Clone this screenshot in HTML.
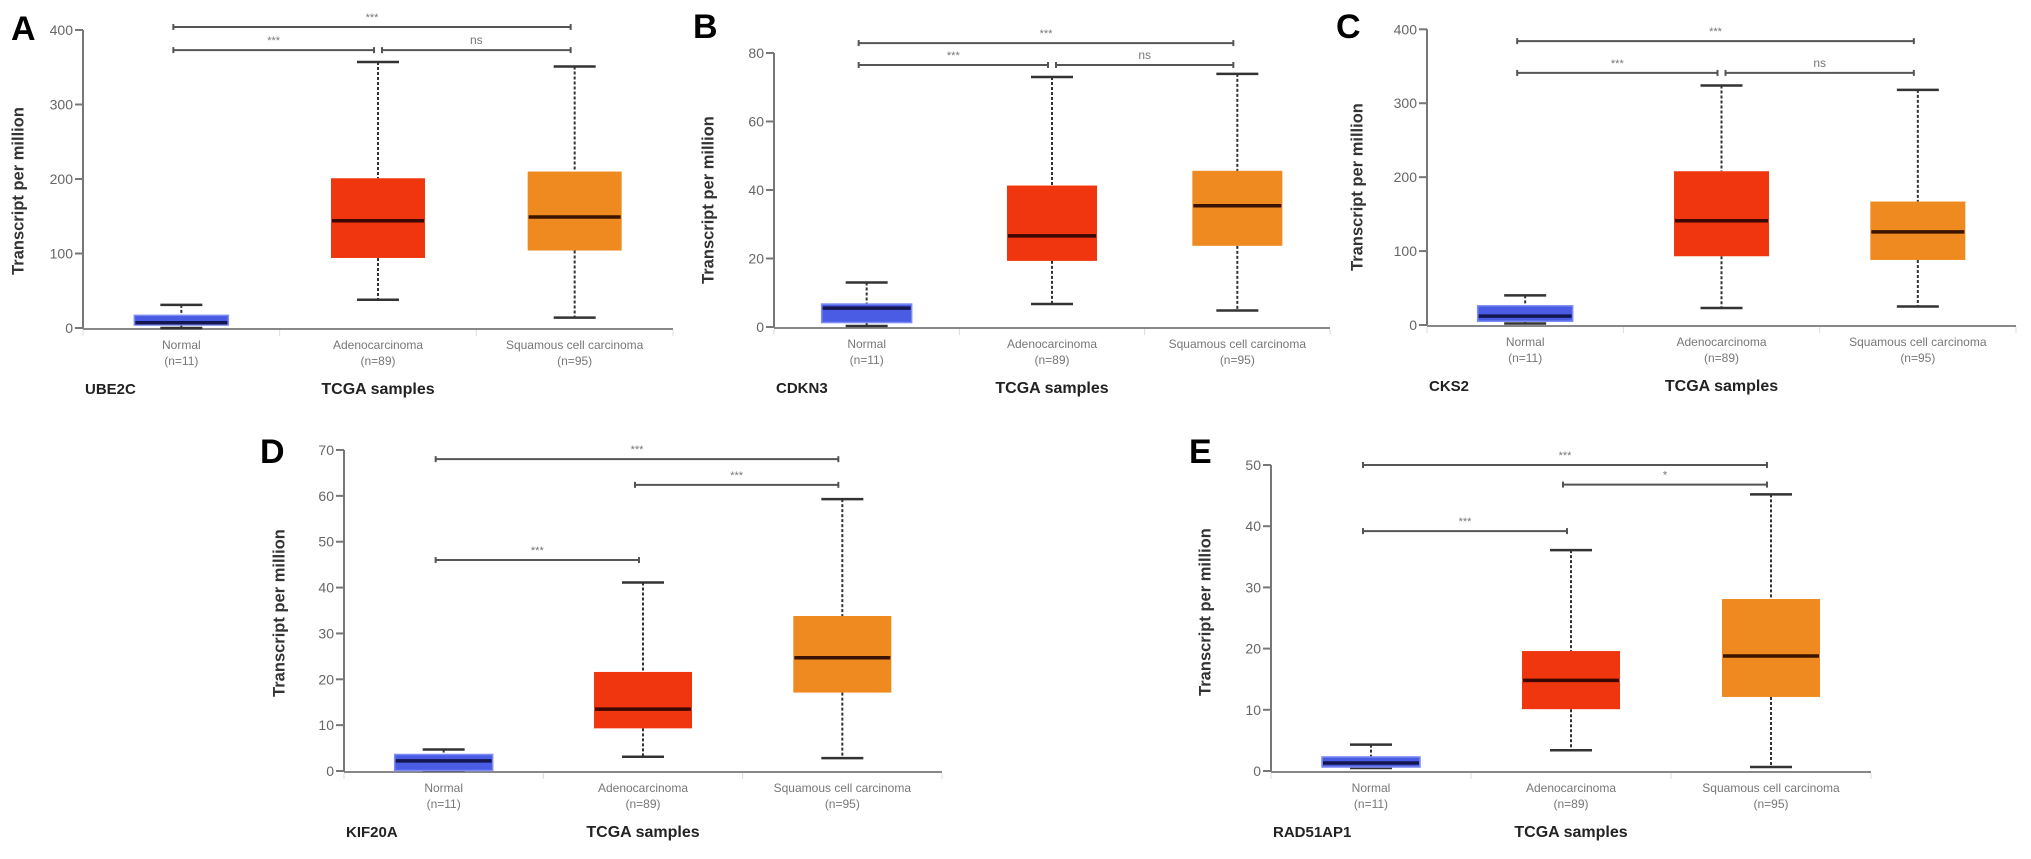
<!DOCTYPE html>
<html><head><meta charset="utf-8">
<style>
html,body{margin:0;padding:0;background:#fff;}
svg{display:block;font-family:"Liberation Sans",sans-serif;}
</style></head>
<body>
<svg id="fig" width="2031" height="859" viewBox="0 0 2031 859" xmlns="http://www.w3.org/2000/svg"></svg>
<script>
// ---- data ----
const categories = ["Normal", "Adenocarcinoma", "Squamous cell carcinoma"];
const counts = ["(n=11)", "(n=89)", "(n=95)"];
// each box: [low whisker, q1, median, q3, high whisker]
const ube2cBoxes = [[0, 4, 7, 17, 31], [38, 94, 144, 201, 357], [14, 104, 149, 210, 351]];
const cdkn3Boxes = [[0.3, 1.3, 5.5, 6.7, 13], [6.7, 19.3, 26.6, 41.3, 73], [4.8, 23.7, 35.4, 45.6, 73.9]];
const cks2Boxes = [[2, 5, 12, 26, 40], [23, 93, 141, 208, 324], [25, 88, 126, 167, 318]];
const kif20aBoxes = [[0.1, 0.1, 2.2, 3.6, 4.7], [3.1, 9.3, 13.5, 21.6, 41.1], [2.8, 17.1, 24.7, 33.8, 59.3]];
const rad51ap1Boxes = [[0.5, 0.65, 1.3, 2.3, 4.3], [3.4, 10.1, 14.8, 19.6, 36.1], [0.65, 12.1, 18.8, 28.1, 45.2]];
// significance brackets: [fromGroup, toGroup, yValue, label]
const ube2cSig = [[0, 2, 404, "***"], [0, 1, 373, "***"], [1, 2, 373, "ns"]];
const cdkn3Sig = [[0, 2, 82.9, "***"], [0, 1, 76.5, "***"], [1, 2, 76.5, "ns"]];
const cks2Sig = [[0, 2, 384, "***"], [0, 1, 341, "***"], [1, 2, 341, "ns"]];
const kif20aSig = [[0, 2, 68, "***"], [1, 2, 62.4, "***"], [0, 1, 46, "***"]];
const rad51ap1Sig = [[0, 2, 50, "***"], [1, 2, 46.8, "*"], [0, 1, 39.2, "***"]];
const ube2cTicks = [0, 100, 200, 300, 400];
const cdkn3Ticks = [0, 20, 40, 60, 80];
const cks2Ticks = [0, 100, 200, 300, 400];
const kif20aTicks = [0, 10, 20, 30, 40, 50, 60, 70];
const rad51ap1Ticks = [0, 10, 20, 30, 40, 50];

const panels = [
 {id:"a", letter:"A", gene:"UBE2C", boxes:ube2cBoxes, sig:ube2cSig, ticks:ube2cTicks, ax:83, xEnd:673, y0:328, yTop:30, lx:11, ly:40, ylx:19, yly:191, bw:94},
 {id:"b", letter:"B", gene:"CDKN3", boxes:cdkn3Boxes, sig:cdkn3Sig, ticks:cdkn3Ticks, ax:774, xEnd:1330, y0:327, yTop:53, lx:693, ly:38, ylx:709, yly:200, bw:90},
 {id:"c", letter:"C", gene:"CKS2", boxes:cks2Boxes, sig:cks2Sig, ticks:cks2Ticks, ax:1427, xEnd:2016, y0:325, yTop:29.3, lx:1336, ly:38, ylx:1358, yly:187, bw:95},
 {id:"d", letter:"D", gene:"KIF20A", boxes:kif20aBoxes, sig:kif20aSig, ticks:kif20aTicks, ax:344, xEnd:942, y0:771, yTop:450, lx:260, ly:463, ylx:280, yly:613, bw:98},
 {id:"e", letter:"E", gene:"RAD51AP1", boxes:rad51ap1Boxes, sig:rad51ap1Sig, ticks:rad51ap1Ticks, ax:1271, xEnd:1871, y0:771, yTop:465, lx:1189, ly:463, ylx:1206, yly:612, bw:98}
];
const fills = ["#4a5ce4", "#ef360e", "#ee8a1f"];
const medians = ["#141650", "#3a0800", "#3a1400"];

const NS = "http://www.w3.org/2000/svg";
const svg = document.getElementById("fig");
function mk(tag, attrs, parent, text) {
  const e = document.createElementNS(NS, tag);
  for (const k in attrs) e.setAttribute(k, attrs[k]);
  if (text !== undefined) e.textContent = text;
  parent.appendChild(e);
  return e;
}

panels.forEach(p => {
  const g = mk("g", {}, svg);
  
  
  const maxV = p.ticks[p.ticks.length - 1];
  const yS = v => p.y0 - (v / maxV) * (p.y0 - p.yTop);
  const band = (p.xEnd - p.ax) / 3;
  const xC = i => p.ax + band * (i + 0.5);

  const L = mk("text", {x:p.lx, y:p.ly, "font-size":34, "font-weight":"bold", fill:"#000"}, g, p.letter);
  
  

  // y axis
  const yAx = mk("g", {}, g);
  
  
  mk("line", {x1:p.ax, y1:p.yTop, x2:p.ax, y2:p.y0+1, stroke:"#777", "stroke-width":2}, yAx);
  p.ticks.forEach(t => {
    const y = yS(t);
    mk("line", {x1:p.ax-8, y1:y, x2:p.ax, y2:y, stroke:"#777", "stroke-width":2}, yAx);
    const tl = mk("text", {x:p.ax-10, y:y+5, "font-size":14, fill:"#666", "text-anchor":"end"}, yAx, String(t));
    
    
  });
  const yt = mk("text", {x:p.ylx, y:p.yly, "font-size":16.5, "font-weight":"bold", fill:"#333", "text-anchor":"middle", "dominant-baseline":"middle", transform:`rotate(-90 ${p.ylx} ${p.yly})`}, g, "Transcript per million");
  
  

  // x axis
  const xAx = mk("g", {}, g);
  
  
  mk("line", {x1:p.ax, y1:p.y0+1, x2:p.xEnd, y2:p.y0+1, stroke:"#888", "stroke-width":2}, xAx);
  for (let i = 0; i <= 3; i++) {
    const x = p.ax + band * i;
    mk("line", {x1:x, y1:p.y0+2, x2:x, y2:p.y0+8, stroke:"#ddd", "stroke-width":1}, xAx);
  }
  categories.forEach((c, i) => {
    const t1 = mk("text", {x:xC(i), y:p.y0+21, "font-size":12, fill:"#777", "text-anchor":"middle"}, xAx, c);
    
    
    const t2 = mk("text", {x:xC(i), y:p.y0+37, "font-size":12, fill:"#777", "text-anchor":"middle"}, xAx, counts[i]);
    
    
  });
  const gn = mk("text", {x:p.ax+2, y:p.y0+66, "font-size":15, "font-weight":"bold", fill:"#222"}, g, p.gene);
  
  
  const xt = mk("text", {x:xC(1), y:p.y0+66, "font-size":16, "font-weight":"bold", fill:"#222", "text-anchor":"middle"}, g, "TCGA samples");
  
  

  // boxes
  p.boxes.forEach((b, i) => {
    const bx = mk("g", {}, g);
    
    
    const cx = xC(i), w = p.bw;
    mk("line", {x1:cx, y1:yS(b[4]), x2:cx, y2:yS(b[3]), stroke:"#333", "stroke-width":2, "stroke-dasharray":"3 2"}, bx);
    mk("line", {x1:cx, y1:yS(b[1]), x2:cx, y2:yS(b[0]), stroke:"#333", "stroke-width":2, "stroke-dasharray":"3 2"}, bx);
    mk("line", {x1:cx-21, y1:yS(b[4]), x2:cx+21, y2:yS(b[4]), stroke:"#333", "stroke-width":2.5}, bx);
    mk("line", {x1:cx-21, y1:yS(b[0]), x2:cx+21, y2:yS(b[0]), stroke:"#333", "stroke-width":2.5}, bx);
    mk("rect", {x:cx-w/2, y:yS(b[3]), width:w, height:Math.max(1, yS(b[1])-yS(b[3])), fill:fills[i], stroke:i===0?"#7d8cf2":"none", "stroke-width":1.5}, bx);
    mk("line", {x1:cx-w/2+1, y1:yS(b[2]), x2:cx+w/2-1, y2:yS(b[2]), stroke:medians[i], "stroke-width":3.5}, bx);
  });

  // significance brackets
  p.sig.forEach(s => {
    const sg = mk("g", {}, g);
    
    
    const split = p.sig.some(o => o !== s && o[2] === s[2]);
    let x1 = xC(s[0]) - 8, x2 = xC(s[1]) - 4;
    if (split) { if (s[0] === 1) x1 = xC(1) + 4; else x2 = xC(1) - 4; }
    const y = yS(s[2]);
    mk("line", {x1:x1, y1:y, x2:x2, y2:y, stroke:"#555", "stroke-width":2}, sg);
    mk("line", {x1:x1, y1:y-3, x2:x1, y2:y+3, stroke:"#555", "stroke-width":2}, sg);
    mk("line", {x1:x2, y1:y-3, x2:x2, y2:y+3, stroke:"#555", "stroke-width":2}, sg);
    const lbl = mk("text", {x:(x1+x2)/2, y:y-6, "font-size":s[3]==="ns"?12:11, fill:"#777", "text-anchor":"middle"}, sg, s[3]);
    
    
  });
});
</script>
</body></html>
